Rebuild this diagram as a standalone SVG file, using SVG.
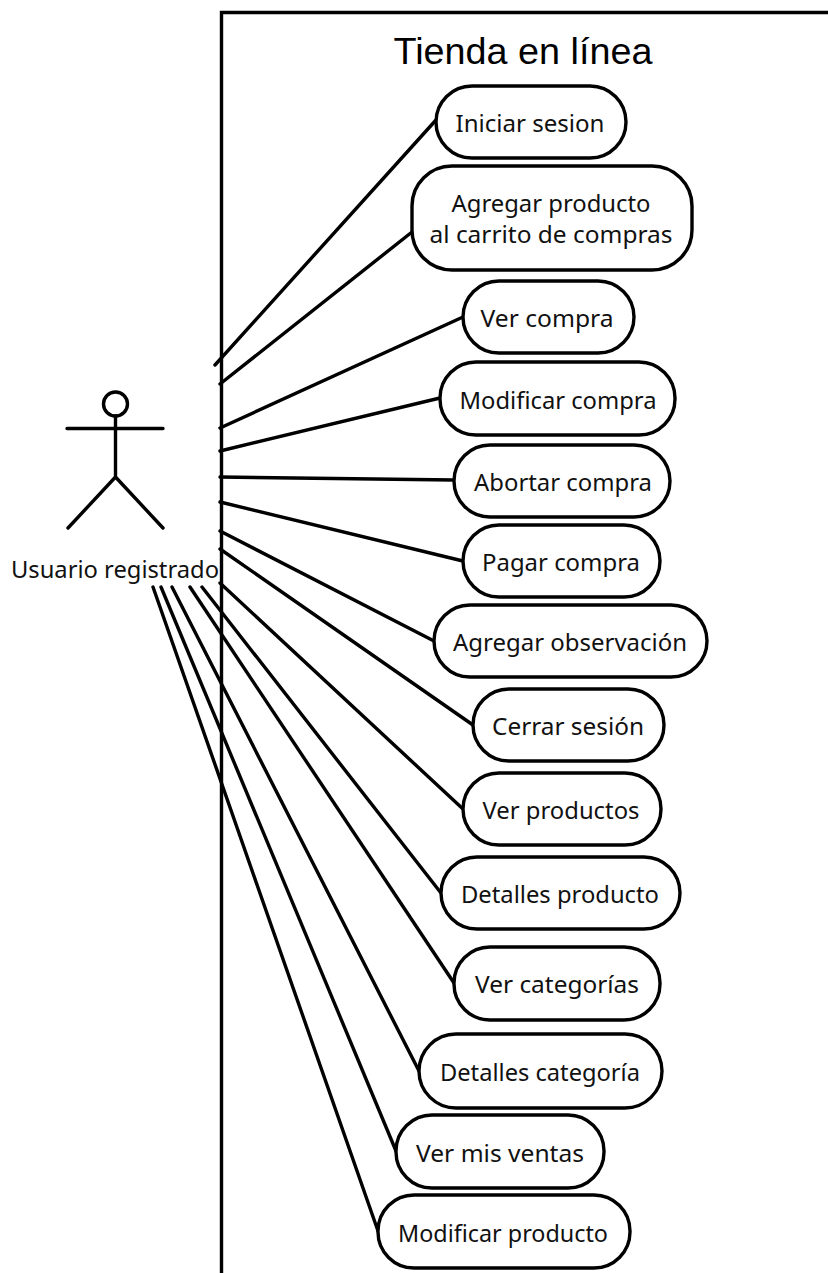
<svg xmlns="http://www.w3.org/2000/svg" width="828" height="1273" viewBox="0 0 828 1273">
<style>
.l{stroke:#000;stroke-width:3.400;fill:none;stroke-linecap:round}
.n{fill:#fff;stroke:#000;stroke-width:3.400}
.t{font-family:"Noto Sans","DejaVu Sans",sans-serif;font-size:23.500px;fill:#111;text-anchor:middle}
</style>
<rect width="828" height="1273" fill="#fff"/>
<g id="system"><path d="M221.500 1273V12.500H828" fill="none" stroke="#000" stroke-width="3.400"/>
<text x="523" y="64" font-family="Liberation Sans,sans-serif" font-size="36px" text-anchor="middle" fill="#000" textLength="259" lengthAdjust="spacingAndGlyphs">Tienda en línea</text></g>
<g id="connectors" class="l">
<path d="M215 365L436 120"/><path d="M220 384L412 232"/><path d="M220 428L463 317"/><path d="M220 451L440 398"/><path d="M220 477L454 480"/><path d="M220 502L463 561"/><path d="M220 531L434 641"/><path d="M220 549L473 725"/><path d="M220 583L463 809"/><path d="M202 587L441 893"/><path d="M190 587L454 983"/><path d="M172 587L419 1071"/><path d="M161 587L396 1151"/><path d="M153 587L378 1231"/>
</g>
<g id="actor" class="l"><circle cx="115.500" cy="404" r="12"/><path d="M115.500 416V477M67 428.500H163M115.500 477L68 528M115.500 477L163 528"/>
<text class="t" x="115" y="578" style="stroke:none" textLength="208" lengthAdjust="spacingAndGlyphs">Usuario registrado</text></g>
<g id="n1"><rect class="n" x="436" y="86" width="190" height="72" rx="36"/><text class="t" x="530" y="132" textLength="149" lengthAdjust="spacingAndGlyphs">Iniciar sesion</text></g>
<g id="n2"><rect class="n" x="412" y="166" width="280" height="104" rx="40"/><text class="t" x="551" y="212" textLength="199" lengthAdjust="spacingAndGlyphs">Agregar producto</text><text class="t" x="551" y="243" textLength="243" lengthAdjust="spacingAndGlyphs">al carrito de compras</text></g>
<g id="n3"><rect class="n" x="463" y="281" width="171" height="72" rx="36"/><text class="t" x="547" y="327" textLength="133" lengthAdjust="spacingAndGlyphs">Ver compra</text></g>
<g id="n4"><rect class="n" x="440" y="362" width="235" height="73" rx="36"/><text class="t" x="558" y="409" textLength="197" lengthAdjust="spacingAndGlyphs">Modificar compra</text></g>
<g id="n5"><rect class="n" x="454" y="445" width="216" height="72" rx="36"/><text class="t" x="563" y="491" textLength="178" lengthAdjust="spacingAndGlyphs">Abortar compra</text></g>
<g id="n6"><rect class="n" x="463" y="525" width="197" height="72" rx="36"/><text class="t" x="561" y="571" textLength="158" lengthAdjust="spacingAndGlyphs">Pagar compra</text></g>
<g id="n7"><rect class="n" x="434" y="605" width="273" height="72" rx="36"/><text class="t" x="570" y="651" textLength="234" lengthAdjust="spacingAndGlyphs">Agregar observación</text></g>
<g id="n8"><rect class="n" x="473" y="689" width="191" height="72" rx="36"/><text class="t" x="568" y="735" textLength="152" lengthAdjust="spacingAndGlyphs">Cerrar sesión</text></g>
<g id="n9"><rect class="n" x="463" y="773" width="198" height="72" rx="36"/><text class="t" x="561" y="819" textLength="157" lengthAdjust="spacingAndGlyphs">Ver productos</text></g>
<g id="n10"><rect class="n" x="441" y="857" width="239" height="72" rx="36"/><text class="t" x="560" y="903" textLength="198" lengthAdjust="spacingAndGlyphs">Detalles producto</text></g>
<g id="n11"><rect class="n" x="454" y="947" width="206" height="73" rx="36"/><text class="t" x="557" y="993" textLength="164" lengthAdjust="spacingAndGlyphs">Ver categorías</text></g>
<g id="n12"><rect class="n" x="419" y="1034" width="243" height="74" rx="37"/><text class="t" x="540" y="1081" textLength="200" lengthAdjust="spacingAndGlyphs">Detalles categoría</text></g>
<g id="n13"><rect class="n" x="396" y="1115" width="208" height="73" rx="36"/><text class="t" x="500" y="1162" textLength="168" lengthAdjust="spacingAndGlyphs">Ver mis ventas</text></g>
<g id="n14"><rect class="n" x="378" y="1195" width="252" height="73" rx="36"/><text class="t" x="503" y="1242" textLength="210" lengthAdjust="spacingAndGlyphs">Modificar producto</text></g>
</svg>
